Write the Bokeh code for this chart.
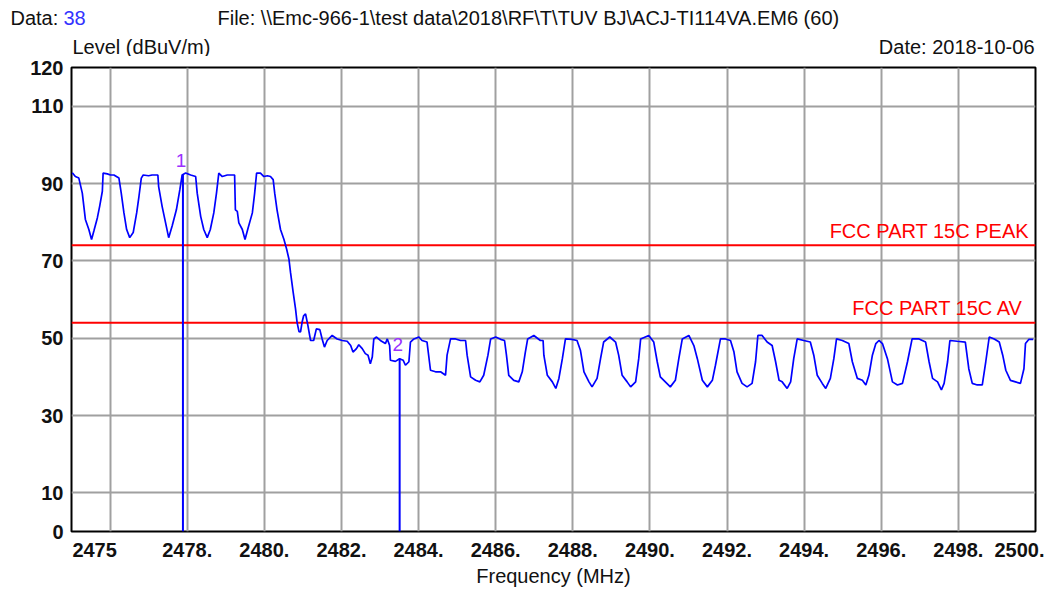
from bokeh.plotting import figure
from bokeh.layouts import column
from bokeh.models import FixedTicker, Label, Range1d
from bokeh.core.properties import value
from bokeh.embed import file_html
from bokeh.resources import INLINE

# ---------------- data ----------------
freq_mhz = [
    2475.02, 2475.10, 2475.19, 2475.28, 2475.36, 2475.45, 2475.52, 2475.58, 2475.67, 2475.73,
    2475.80, 2475.82, 2475.93, 2476.01, 2476.10, 2476.23, 2476.29, 2476.36, 2476.43, 2476.51,
    2476.60, 2476.69, 2476.75, 2476.81, 2476.86, 2477.00, 2477.09, 2477.24, 2477.26, 2477.35,
    2477.44, 2477.52, 2477.61, 2477.72, 2477.81, 2477.87, 2477.96, 2478.09, 2478.22, 2478.26,
    2478.35, 2478.43, 2478.52, 2478.60, 2478.69, 2478.76, 2478.82, 2478.91, 2479.04, 2479.23,
    2479.25, 2479.30, 2479.34, 2479.43, 2479.50, 2479.58, 2479.69, 2479.75, 2479.80, 2479.90,
    2479.99, 2480.08, 2480.16, 2480.23, 2480.27, 2480.33, 2480.42, 2480.51, 2480.58, 2480.64,
    2480.68, 2480.75, 2480.81, 2480.85, 2480.90, 2480.94, 2480.98, 2481.02, 2481.07, 2481.13,
    2481.20, 2481.28, 2481.35, 2481.44, 2481.50, 2481.56, 2481.63, 2481.76, 2481.89, 2482.02,
    2482.15, 2482.24, 2482.30, 2482.39, 2482.45, 2482.54, 2482.62, 2482.69, 2482.75, 2482.80,
    2482.84, 2482.91, 2483.01, 2483.14, 2483.19, 2483.25, 2483.27, 2483.40, 2483.51, 2483.60,
    2483.66, 2483.75, 2483.79, 2483.88, 2484.01, 2484.09, 2484.22, 2484.31, 2484.44, 2484.57,
    2484.70, 2484.74, 2484.83, 2484.96, 2485.09, 2485.22, 2485.26, 2485.35, 2485.48, 2485.59,
    2485.69, 2485.80, 2485.87, 2486.00, 2486.13, 2486.23, 2486.28, 2486.34, 2486.47, 2486.60,
    2486.69, 2486.77, 2486.83, 2486.99, 2487.16, 2487.23, 2487.25, 2487.34, 2487.47, 2487.56,
    2487.64, 2487.73, 2487.81, 2487.98, 2488.11, 2488.20, 2488.29, 2488.42, 2488.50, 2488.63,
    2488.72, 2488.80, 2488.96, 2489.11, 2489.19, 2489.28, 2489.41, 2489.50, 2489.63, 2489.71,
    2489.76, 2489.97, 2490.10, 2490.19, 2490.27, 2490.40, 2490.53, 2490.66, 2490.75, 2490.84,
    2491.01, 2491.14, 2491.23, 2491.36, 2491.49, 2491.62, 2491.70, 2491.83, 2491.96, 2492.09,
    2492.18, 2492.26, 2492.39, 2492.52, 2492.65, 2492.74, 2492.80, 2492.91, 2493.04, 2493.17,
    2493.26, 2493.35, 2493.43, 2493.56, 2493.65, 2493.73, 2493.82, 2493.99, 2494.16, 2494.25,
    2494.34, 2494.47, 2494.56, 2494.68, 2494.77, 2494.84, 2494.99, 2495.16, 2495.25, 2495.38,
    2495.51, 2495.60, 2495.68, 2495.77, 2495.86, 2495.94, 2496.03, 2496.16, 2496.29, 2496.42,
    2496.55, 2496.68, 2496.80, 2496.98, 2497.15, 2497.24, 2497.33, 2497.46, 2497.56, 2497.63,
    2497.72, 2497.78, 2497.97, 2498.18, 2498.27, 2498.36, 2498.49, 2498.62, 2498.71, 2498.80,
    2498.93, 2499.06, 2499.15, 2499.23, 2499.35, 2499.48, 2499.61, 2499.70, 2499.74, 2499.83,
    2499.94,
]
level_dbuv = [
    92.8, 91.8, 91.4, 87.5, 80.7, 78.1, 75.5, 77.7, 81.1, 84.1,
    88.0, 92.7, 92.5, 92.2, 92.2, 91.4, 87.5, 82.4, 78.1, 76.0,
    77.3, 82.4, 86.7, 91.4, 92.2, 92.0, 92.2, 92.2, 89.2, 84.1,
    79.8, 76.0, 79.0, 83.2, 88.4, 92.2, 92.7, 92.2, 91.8, 87.5,
    81.5, 78.1, 76.0, 78.1, 82.4, 87.5, 92.7, 91.8, 92.2, 92.2,
    83.2, 82.8, 79.8, 78.1, 75.5, 78.5, 82.4, 87.5, 92.7, 92.7,
    91.8, 92.0, 91.8, 91.0, 87.5, 83.2, 78.1, 75.5, 73.0, 70.4,
    67.0, 61.8, 57.6, 54.1, 51.7, 51.6, 54.1, 55.8, 56.3, 53.3,
    49.4, 49.4, 52.4, 52.2, 49.8, 47.7, 49.4, 50.7, 49.8, 49.4,
    49.2, 48.1, 46.4, 47.3, 48.3, 47.3, 46.0, 45.6, 43.4, 45.1,
    49.8, 50.3, 49.4, 48.6, 49.8, 48.1, 44.3, 44.0, 44.7, 44.3,
    43.0, 43.9, 49.0, 49.8, 50.3, 49.4, 49.0, 41.7, 41.3, 41.3,
    40.4, 45.6, 49.8, 49.8, 49.4, 49.4, 45.6, 40.0, 39.1, 38.7,
    40.4, 45.6, 49.8, 50.3, 49.7, 49.4, 45.6, 40.4, 39.1, 38.7,
    41.3, 46.4, 49.8, 50.7, 49.4, 49.4, 45.6, 40.4, 38.7, 37.0,
    39.6, 44.7, 49.8, 49.7, 49.4, 46.8, 41.3, 38.7, 37.4, 39.6,
    44.7, 49.0, 50.3, 49.0, 45.6, 40.4, 38.7, 37.4, 38.7, 44.7,
    49.8, 50.7, 49.0, 43.9, 40.0, 38.7, 37.4, 39.1, 44.7, 49.8,
    50.7, 48.1, 44.7, 39.1, 37.4, 39.1, 43.0, 49.8, 49.8, 49.4,
    46.4, 41.3, 38.3, 37.4, 38.3, 43.9, 50.7, 50.7, 49.0, 48.1,
    43.9, 39.1, 38.7, 37.0, 38.7, 44.7, 49.8, 49.4, 49.0, 45.6,
    40.4, 38.3, 37.0, 39.6, 44.7, 49.8, 49.4, 48.6, 43.9, 39.6,
    39.1, 37.9, 40.4, 45.6, 48.6, 49.4, 48.6, 44.7, 38.7, 37.9,
    38.3, 43.9, 49.8, 49.8, 49.0, 43.9, 39.6, 38.7, 36.6, 38.3,
    43.9, 49.4, 49.2, 49.0, 42.1, 38.3, 37.9, 37.9, 43.9, 50.3,
    49.8, 49.0, 45.6, 41.7, 39.1, 38.7, 38.3, 42.1, 48.6, 49.7,
    49.7,
]

limit_names = ["FCC PART 15C PEAK", "FCC PART 15C  AV"]
limit_levels = [74.0, 54.0]

marker_ids = ["1", "2"]
marker_freq = [2477.89, 2483.51]
marker_level = [92.3, 44.7]

x_ticks = [2475.6, 2478, 2480, 2482, 2484, 2486, 2488, 2490, 2492, 2494, 2496, 2498, 2500]
x_tick_labels = ["2475", "2478.", "2480.", "2482.", "2484.", "2486.", "2488.", "2490.",
                 "2492.", "2494.", "2496.", "2498.", "2500."]
x_grid = [2476, 2478, 2480, 2482, 2484, 2486, 2488, 2490, 2492, 2494, 2496, 2498]
y_ticks = [0, 10, 30, 50, 70, 90, 110, 120]
y_grid = [10, 30, 50, 70, 90, 110]

data_label = "Data:"
data_number = "38"
file_text = r"File: \\Emc-966-1\test data\2018\RF\T\TUV BJ\ACJ-TI114VA.EM6  (60)"
level_text = "Level (dBuV/m)"
date_text = "Date: 2018-10-06"
x_title = "Frequency (MHz)"

FONT = "Liberation Sans"
W = 1044
HEAD_H = 56

# ---------------- header strip (texts above the chart) ----------------
head = figure(width=W, height=HEAD_H, x_range=Range1d(0, W), y_range=Range1d(HEAD_H, 0),
              output_backend="svg", toolbar_location=None,
              x_axis_location=None, y_axis_location=None,
              min_border_left=0, min_border_right=0, min_border_top=0, min_border_bottom=0)
head.grid.visible = False
head.outline_line_color = None
head.background_fill_color = "white"
head.border_fill_color = "white"


def htext(x, y, t, align="left", color="#111111", style="normal"):
    head.text(x=[x], y=[y], text=[t], text_align=align, text_baseline="middle",
              text_color=color, text_font=value(FONT), text_font_style=style,
              text_font_size="20px")


htext(10, 17, data_label)
htext(63, 17, data_number, color="#3333ff")
htext(217, 17, file_text)
htext(72, 46, level_text)
htext(1034, 46, date_text, align="right")

# ---------------- main chart ----------------
p = figure(width=W, height=589 - HEAD_H, x_range=(2475, 2500), y_range=(0, 120),
           output_backend="svg", toolbar_location=None,
           min_border_left=71, min_border_right=9, min_border_top=67 - HEAD_H,
           min_border_bottom=55)
p.background_fill_color = "white"
p.border_fill_color = "white"
p.outline_line_color = "black"
p.outline_line_width = 2

# keep each figure's frame independent inside the column
for fig in (head, p):
    try:
        fig.frame_align = False
    except Exception:
        pass

p.xaxis.ticker = FixedTicker(ticks=x_ticks)
p.xaxis.major_label_overrides = {t: s for t, s in zip(x_ticks, x_tick_labels)}
p.yaxis.ticker = FixedTicker(ticks=y_ticks)
p.xgrid.ticker = FixedTicker(ticks=x_grid)
p.ygrid.ticker = FixedTicker(ticks=y_grid)
for g in (p.xgrid, p.ygrid):
    g.grid_line_color = "#a0a0a0"
    g.grid_line_width = 2
for ax in (p.xaxis, p.yaxis):
    ax.axis_line_color = None
    ax.major_tick_line_color = None
    ax.minor_tick_line_color = None
    ax.major_label_text_font = FONT
    ax.major_label_text_font_style = "bold"
    ax.major_label_text_font_size = "20px"
    ax.major_label_text_color = "#111111"
p.xaxis.major_label_standoff = 5
p.yaxis.major_label_standoff = 2
p.xaxis.axis_label = x_title
p.xaxis.axis_label_text_font = FONT
p.xaxis.axis_label_text_font_style = "normal"
p.xaxis.axis_label_text_font_size = "20px"
p.xaxis.axis_label_text_color = "#111111"
p.xaxis.axis_label_standoff = 5

# limit lines
for name, lv in zip(limit_names, limit_levels):
    p.line([2475, 2500], [lv, lv], line_color="#ff0000", line_width=2)
    p.add_layout(Label(x=2499.83, y=lv + 0.9, text=name, text_align="right",
                       text_baseline="bottom", text_color="#ff0000",
                       text_font=FONT, text_font_size="20px"))

# trace
p.line(freq_mhz, level_dbuv, line_color="#0000ff", line_width=1.7)

# markers
p.segment(x0=marker_freq, y0=marker_level, x1=marker_freq, y1=[0] * len(marker_freq),
          line_color="#0000ff", line_width=2)
for mid, mf, ml in zip(marker_ids, marker_freq, marker_level):
    p.add_layout(Label(x=mf - 0.05, y=ml + 2.0, text=mid, text_align="center",
                       text_baseline="bottom", text_color="#9b30ff",
                       text_font=FONT, text_font_size="19px"))

layout = column(head, p, spacing=0)
open("out.html", "w").write(file_html(layout, INLINE))
